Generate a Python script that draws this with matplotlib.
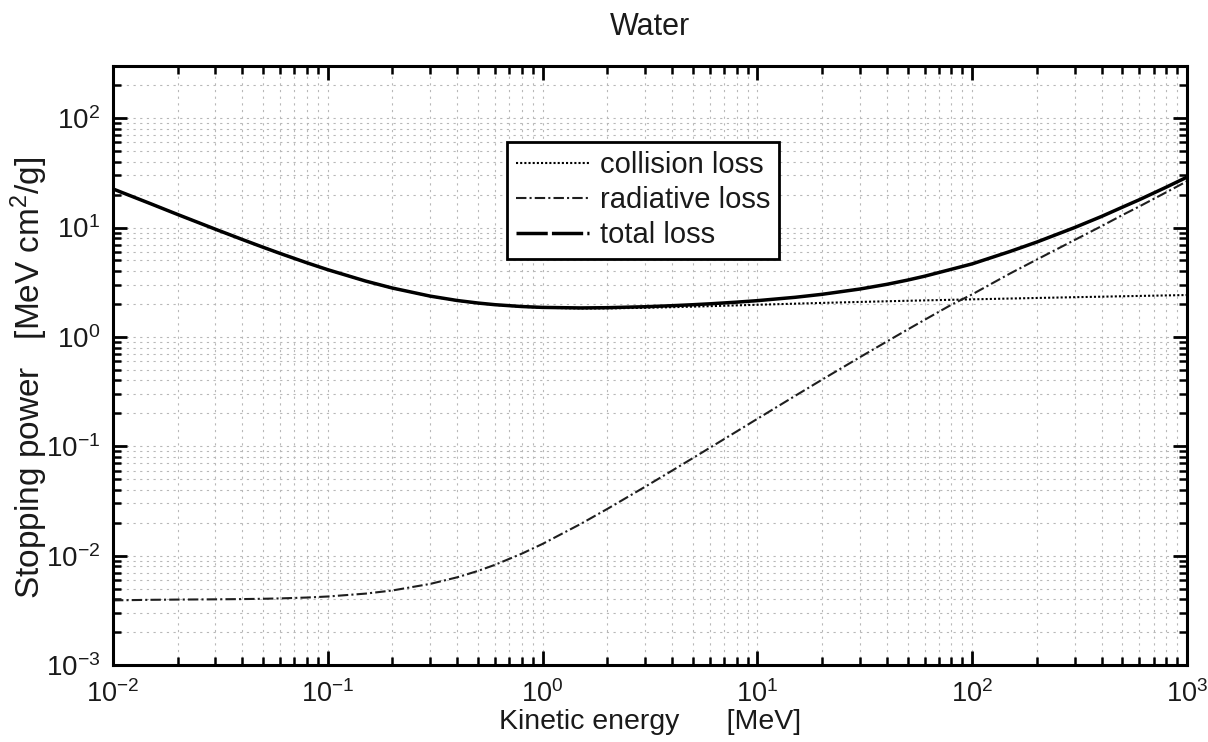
"""
Electron stopping power in water: collision, radiative and total loss
"""

import matplotlib.pyplot as plt
from matplotlib.lines import Line2D
import numpy as np

plt.rcParams['font.family'] = ['Liberation Sans', 'DejaVu Sans']
plt.rcParams['mathtext.fontset'] = 'custom'
plt.rcParams['mathtext.rm'] = 'Liberation Sans'
plt.rcParams['mathtext.it'] = 'Liberation Sans:italic'
plt.rcParams['mathtext.default'] = 'regular'

# kinetic energy [MeV]
energy = [0.01, 0.015, 0.02, 0.03, 0.04, 0.05, 0.06, 0.08, 0.1, 0.15, 0.2,
          0.3, 0.4, 0.5, 0.6, 0.8, 1.0, 1.5, 2.0, 3.0, 4.0, 5.0, 6.0, 8.0,
          10.0, 15.0, 20.0, 30.0, 40.0, 50.0, 60.0, 80.0, 100.0, 150.0,
          200.0, 300.0, 400.0, 500.0, 600.0, 800.0, 1000.0]

# collision stopping power [MeV cm2/g]
collision = [22.56, 16.5, 13.17, 9.653, 7.777, 6.603, 5.797, 4.757, 4.115,
             3.238, 2.793, 2.355, 2.148, 2.034, 1.963, 1.886, 1.849, 1.822,
             1.824, 1.846, 1.870, 1.892, 1.911, 1.943, 1.968, 2.014, 2.046,
             2.089, 2.118, 2.141, 2.158, 2.185, 2.206, 2.244, 2.271, 2.308,
             2.333, 2.354, 2.370, 2.396, 2.416]

# radiative stopping power [MeV cm2/g]
radiative = [3.898e-3, 3.944e-3, 3.963e-3, 3.984e-3, 4.005e-3, 4.031e-3,
             4.062e-3, 4.138e-3, 4.228e-3, 4.494e-3, 4.801e-3, 5.514e-3,
             6.332e-3, 7.243e-3, 8.234e-3, 1.042e-2, 1.280e-2, 1.943e-2,
             2.671e-2, 4.260e-2, 5.971e-2, 7.782e-2, 9.672e-2, 0.1364,
             0.1783, 0.2893, 0.4065, 0.6519, 0.9062, 1.167, 1.431, 1.969,
             2.45, 3.80, 5.10, 7.70, 10.3, 13.0, 15.6, 21.0, 26.5]

total = np.array(collision) + np.array(radiative)

coll_style = dict(color='black', lw=1.5, linestyle=(0, (1, 1)))
rad_style = dict(color='#1e1e1e', lw=1.5, linestyle=(0, (5, 1.5, 1, 1.5)))

fig = plt.figure(figsize=(12.08, 7.42), dpi=100)
ax = fig.add_axes([0.0935, 0.1038, 0.8891, 0.8072])

ax.loglog(energy, collision, **coll_style)
ax.loglog(energy, radiative, **rad_style)
ax.loglog(energy, total, color='black', lw=2.5, solid_capstyle='round')

ax.set_xlim(1e-2, 1e3)
ax.set_ylim(1e-3, 3e2)

# dotted grid on every decade and sub-decade
ax.grid(True, which='both', color='#b8b8b8', linestyle=(0, (2, 4)), lw=0.8)
ax.set_axisbelow(True)

ax.tick_params(which='both', direction='in', top=True, right=True,
               colors='black', labelcolor='#1a1a1a')
ax.tick_params(which='major', length=10, width=2)
ax.tick_params(which='minor', length=6, width=1.8)
ax.tick_params(axis='x', which='major', labelsize=19.5, pad=11)
ax.tick_params(axis='y', which='major', labelsize=20, pad=9)
for s in ax.spines.values():
    s.set_linewidth(2.2)

ax.set_title('Water', fontsize=22, color='#1a1a1a', pad=22)
ax.set_xlabel('Kinetic energy      [MeV]', fontsize=20.5, color='#1a1a1a',
              labelpad=1)
ax.set_ylabel('Stopping power   [MeV cm$^2$/g]', fontsize=24,
              color='#1a1a1a')
ax.yaxis.set_label_coords(-0.059, 0.48)

# legend keys: the total loss key is a long-dashed line
handles = [Line2D([], [], **coll_style),
           Line2D([], [], **rad_style),
           Line2D([], [], color='black', lw=2.5, linestyle=(0, (9, 1.2)))]
labels = ['collision loss', 'radiative loss', 'total loss']
leg = ax.legend(handles, labels, loc='upper left',
                bbox_to_anchor=(0.367, 0.873), fontsize=21, frameon=True,
                fancybox=False, handlelength=2.5, handletextpad=0.35,
                borderpad=0.32, labelspacing=0.24, borderaxespad=0)
leg.get_frame().set_edgecolor('black')
leg.get_frame().set_linewidth(2)
leg.get_frame().set_alpha(1)
for t in leg.get_texts():
    t.set_color('#1a1a1a')

fig.savefig('out.png', dpi=100)
